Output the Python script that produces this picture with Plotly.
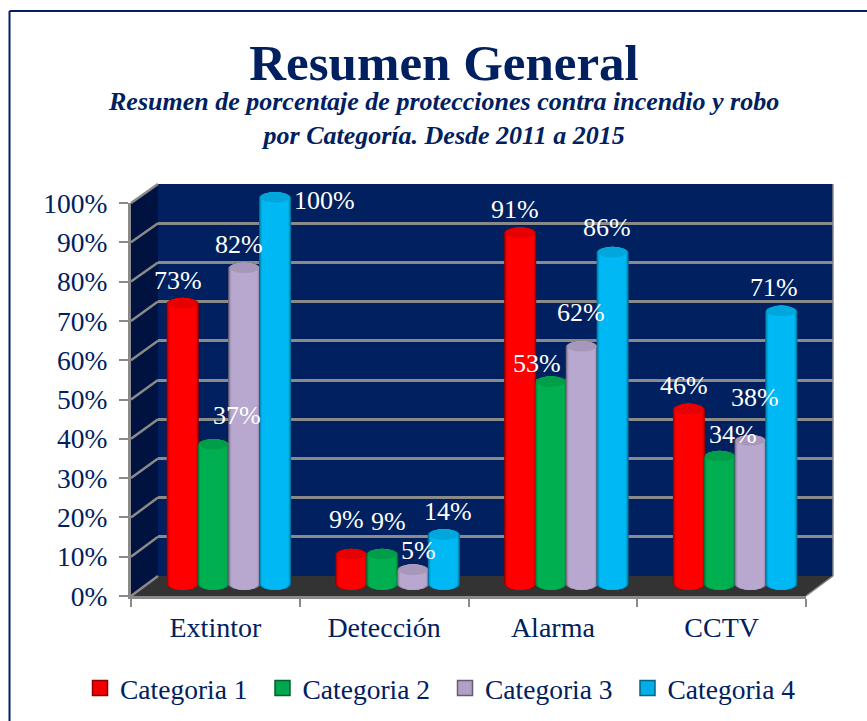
import plotly.graph_objects as go

categories = ["Extintor", "Detección", "Alarma", "CCTV"]
series_names = ["Categoria 1", "Categoria 2", "Categoria 3", "Categoria 4"]
categoria_1 = [73, 9, 91, 46]
categoria_2 = [37, 9, 53, 34]
categoria_3 = [82, 5, 62, 38]
categoria_4 = [100, 14, 86, 71]
series_values = [categoria_1, categoria_2, categoria_3, categoria_4]
y_ticks = list(range(0, 101, 10))
y_tick_labels = [f"{t}%" for t in y_ticks]

# styling / layout below
W, H = 867, 721
MT, MB = 30, 30
FONT = "Liberation Serif"
NAVY = "#002060"
base_colors = [(255, 0, 0), (0, 176, 80), (184, 168, 208), (0, 184, 244)]
label_dx = [[-4.5, -5, -5, -5], [23.5, 6, -14, 13], [-5.5, 5, -1, 4], [49.5, 4, -6, -7]]
label_dy = [[23, 35, 24, 24], [29, 33, 19, 22], [24, 20, 34, 44], [-3, 24, 25, 24]]
layers = [(1.00, .55), (.97, .68), (.93, .82), (.88, .93), (.82, 1.0)]
BAR_STEP = 0.1825  # category fraction between neighbouring cylinders
BAR_WIDTH = 0.19
CAP = 1.55  # half height of the cap ellipse, in value units


def px(x):
    return x / W


def py(y):
    return 1 - (y - MT) / (H - MT - MB)


def shade(c, f):
    return "rgb(%d,%d,%d)" % tuple(round(v * f) for v in c)


def poly(points, fill, line=None, lw=0):
    path = "M" + " L".join(f"{px(a):.5f},{py(b):.5f}" for a, b in points) + " Z"
    return dict(type="path", xref="paper", yref="paper", path=path, fillcolor=fill,
                line=dict(color=line or fill, width=lw), layer="below")


fig = go.Figure()

# back wall grid (first subplot)
fig.add_trace(go.Scatter(x=[0], y=[0], xaxis="x", yaxis="y", mode="markers",
                         marker=dict(opacity=0), showlegend=False, hoverinfo="skip"))
shapes = [
    poly([(158, 184), (833, 184), (833, 576), (158, 576)], NAVY),
    poly([(131, 203), (158, 184), (158, 576), (131, 596)], "#001340"),
    poly([(131, 596), (158, 576), (833, 576), (806, 596)], "#333333"),
]
for t in y_ticks:
    fy = 596 - 3.93 * t
    by = 576 - 3.92 * t
    shapes.append(dict(type="line", xref="paper", yref="paper", x0=px(131), x1=px(158),
                       y0=py(fy), y1=py(by), line=dict(color="#8a8a8a", width=2.5), layer="below"))
shapes.append(dict(type="line", xref="paper", yref="paper", x0=px(833), x1=px(806),
                   y0=py(576), y1=py(596), line=dict(color="#8a8a8a", width=1.5), layer="below"))
shapes.append(dict(type="line", xref="paper", yref="paper", x0=px(833), x1=px(833),
                   y0=py(184), y1=py(576), line=dict(color="#8a8a8a", width=1.5), layer="below"))
# frame: top and left edges only
shapes.append(dict(type="line", xref="paper", yref="paper", x0=px(9.5), x1=px(867), y0=py(11),
                   y1=py(11), line=dict(color=NAVY, width=2), layer="below"))
shapes.append(dict(type="line", xref="paper", yref="paper", x0=px(9.5), x1=px(9.5), y0=py(11),
                   y1=py(721), line=dict(color=NAVY, width=2), layer="below"))

# cylinders: nested bars for the shading, ellipses for the round ends
for s, vals in enumerate(series_values):
    offset_c = (s - 1.5) * BAR_STEP
    for w, f in layers:
        width = BAR_WIDTH * w
        fig.add_trace(go.Bar(x=categories, y=[v - CAP for v in vals], base=CAP, xaxis="x2", yaxis="y2", width=width,
                             offset=offset_c - width / 2, marker=dict(color=shade(base_colors[s], f), line=dict(width=0)),
                             showlegend=False, hoverinfo="skip"))
        for i, v in enumerate(vals):
            for level in (CAP, v):
                shapes.append(dict(type="circle", xref="x2", yref="y2", layer="below",
                                   x0=i + offset_c - width / 2, x1=i + offset_c + width / 2,
                                   y0=level - CAP, y1=level + CAP,
                                   fillcolor=shade(base_colors[s], f), line=dict(width=0)))
    for i, v in enumerate(vals):
        width = BAR_WIDTH * .92
        shapes.append(dict(type="circle", xref="x2", yref="y2", layer="above",
                           x0=i + offset_c - width / 2, x1=i + offset_c + width / 2,
                           y0=v - CAP * .75, y1=v + CAP * .95,
                           fillcolor=shade(base_colors[s], .9), line=dict(width=0)))

# front axis frame and legend entries
fig.add_trace(go.Scatter(x=categories, y=[0, 0, 0, 0], xaxis="x3", yaxis="y3", mode="markers",
                         marker=dict(opacity=0), showlegend=False, hoverinfo="skip"))
for s, name in enumerate(series_names):
    fig.add_trace(go.Scatter(x=[None], y=[None], xaxis="x3", yaxis="y3", mode="markers", name=name,
                             marker=dict(symbol="square", size=15, color=shade(base_colors[s], .95),
                                         line=dict(color=shade(base_colors[s], .55), width=1.5))))

annotations = [
    dict(text="<b><i>Resumen de porcentaje de protecciones contra incendio y robo<br>por Categoría. Desde 2011 a 2015</i></b>",
         xref="paper", yref="paper", x=px(443), y=py(119), yanchor="middle", showarrow=False,
         font=dict(family=FONT, size=26, color=NAVY), align="center"),
]
for s, vals in enumerate(series_values):
    offset_c = (s - 1.5) * BAR_STEP
    for i, v in enumerate(vals):
        annotations.append(dict(text=f"{v}%", xref="x2", yref="y2", x=i + offset_c, y=v,
                                xshift=label_dx[s][i], yshift=label_dy[s][i], showarrow=False,
                                xanchor="center", yanchor="middle",
                                font=dict(family=FONT, size=26, color="white")))

fig.update_layout(
    width=W, height=H, autosize=False, margin=dict(l=0, r=0, t=MT, b=MB),
    paper_bgcolor="white", plot_bgcolor="rgba(0,0,0,0)", barmode="overlay",
    title=dict(text="<b>Resumen General</b>", x=px(444), xanchor="center", y=1 - 62 / H, yanchor="middle",
               font=dict(family=FONT, size=51, color=NAVY)),
    shapes=shapes, annotations=annotations,
    xaxis=dict(domain=[px(158), px(833)], range=[0, 1], visible=False, fixedrange=True),
    yaxis=dict(domain=[py(576), py(184)], range=[0, 100], dtick=10, showticklabels=False, ticks="",
               showgrid=True, gridcolor="#8a8a8a", gridwidth=2.5, zeroline=False, showline=False,
               anchor="x"),
    xaxis2=dict(domain=[px(144.5), px(819.5)], range=[-.5, 3.5], visible=False, type="category",
                categoryorder="array", categoryarray=categories, anchor="y2"),
    yaxis2=dict(domain=[py(590 + 3 * 3.92), py(590 - 103 * 3.92)], range=[-3, 103], visible=False, anchor="x2"),
    xaxis3=dict(domain=[px(131), px(806)], range=[-.5, 3.5], type="category", categoryorder="array",
                categoryarray=categories, tickson="boundaries", ticks="outside", ticklen=8, tickwidth=2,
                tickcolor="#8a8a8a", showline=True, linecolor="#8a8a8a", linewidth=3, showgrid=False,
                tickfont=dict(family=FONT, size=28, color=NAVY), ticklabelstandoff=4, anchor="y3", zeroline=False),
    yaxis3=dict(domain=[py(596), py(203)], range=[0, 100], tickvals=y_ticks, ticktext=y_tick_labels,
                ticks="outside", ticklen=9, tickwidth=2, tickcolor="#8a8a8a", showline=True,
                linecolor="#8a8a8a", linewidth=3, showgrid=False, zeroline=False,
                tickfont=dict(family=FONT, size=27.5, color=NAVY), ticklabelstandoff=6, anchor="x3"),
    legend=dict(orientation="h", x=px(80), xanchor="left", y=py(688), yanchor="middle",
                entrywidth=137.5, entrywidthmode="pixels", font=dict(family=FONT, size=27.5, color=NAVY),
                bgcolor="rgba(0,0,0,0)", traceorder="normal"),
    showlegend=True,
)
fig.write_html("out.html", config=dict(displayModeBar=False),
               post_script="document.body.style.margin='0';document.documentElement.style.overflow='hidden';")
